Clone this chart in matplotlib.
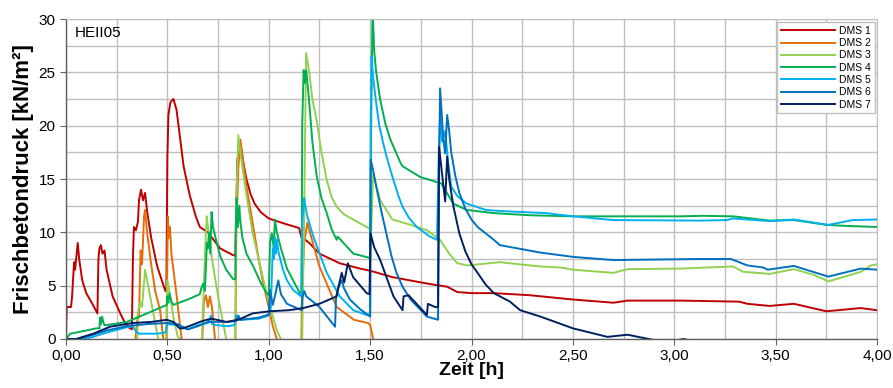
import matplotlib

matplotlib.use("Agg")
import matplotlib.pyplot as plt
from matplotlib.ticker import FuncFormatter, MultipleLocator

plt.rcParams["font.family"] = ["Liberation Sans", "DejaVu Sans"]

# readings from the reference chart: time [h] and pressure [kN/m2]
# values below 0 stand for the curve leaving the visible range
dms1_t = [0, 0.003, 0.005, 0.025, 0.03, 0.04, 0.045, 0.05, 0.058, 0.065, 0.08, 0.10, 0.13, 0.155,
          0.16, 0.165, 0.172, 0.18, 0.19, 0.20, 0.23, 0.27, 0.30, 0.325, 0.33, 0.335, 0.345, 0.355,
          0.36, 0.37, 0.38, 0.39, 0.40, 0.42, 0.45, 0.49, 0.495, 0.50, 0.505, 0.515, 0.53, 0.545,
          0.555, 0.58, 0.61, 0.64, 0.66, 0.70, 0.76, 0.82, 0.835, 0.845, 0.86, 0.875, 0.89, 0.91,
          0.93, 0.96, 1.0, 1.08, 1.15, 1.16, 1.2, 1.25, 1.35, 1.45, 1.5, 1.61, 1.78, 1.88, 1.93,
          2.0, 2.11, 2.29, 2.5, 2.70, 2.77, 3.03, 3.32, 3.36, 3.47, 3.59, 3.75, 3.92, 4.0]
dms1_v = [0, 2.8, 3.0, 3.0, 4.0, 7.2, 6.5, 7.5, 9.0, 7.5, 5.5, 4.3, 3.3, 2.4,
          7.5, 8.5, 8.8, 8.0, 8.3, 6.5, 4.0, 2.3, 1.2, 0.9, 7.5, 10.5, 10.2, 11.0,
          13.0, 14.0, 13.0, 13.7, 12.0, 9.5, 6.8, 4.5, 4.5, 17.0, 21.0, 22.2, 22.5, 21.5,
          20.0, 16.2, 13.5, 11.5, 10.5, 10.0, 8.5, 7.9, 7.8, 16.8, 18.3, 16.5, 15.0, 13.6,
          12.7, 11.9, 11.3, 10.8, 10.4, 9.6, 9.0, 8.0, 7.1, 6.6, 6.4, 5.8, 5.2, 4.9, 4.4,
          4.3, 4.3, 4.1, 3.7, 3.4, 3.6, 3.6, 3.5, 3.3, 3.1, 3.3, 2.6, 2.9, 2.7]

dms2_t = [0, 0.34, 0.345, 0.355, 0.36, 0.368, 0.375, 0.385, 0.39, 0.40, 0.42, 0.44, 0.464, 0.48,
          0.485, 0.495, 0.498, 0.502, 0.507, 0.513, 0.52, 0.546, 0.57, 0.575, 0.67, 0.68, 0.69,
          0.70, 0.71, 0.72, 0.73, 0.74, 0.835, 0.84, 0.85, 0.86, 0.89, 0.924, 0.95, 0.975, 1.0,
          1.02, 1.04, 1.045, 1.16, 1.165, 1.175, 1.19, 1.20, 1.25, 1.335, 1.42, 1.49, 1.50, 1.515,
          1.52, 4.0]
dms2_v = [-1, -1, 0.5, 2.4, 2.0, 8.3, 7.0, 11.5, 12.1, 10.0, 7.0, 4.5, 2.7, 0,
          -1, -1, 5.0, 11.5, 9.5, 10.5, 8.0, 4.0, 0, -1, -1, 3.5, 4.1,
          3.0, 4.0, 3.0, 1.0, -1, -1, 10.0, 16.0, 18.7, 14.3, 10.5, 7.5, 5.0, 3.0,
          1.2, 0, -1, -1, 5.0, 9.0, 10.9, 10.2, 6.8, 3.0, 1.8, 1.5, 1.3, 0,
          -1, -1]

dms3_t = [0, 0.35, 0.355, 0.365, 0.375, 0.39, 0.40, 0.42, 0.44, 0.455, 0.46, 0.49, 0.495, 0.50,
          0.51, 0.53, 0.55, 0.56, 0.565, 0.665, 0.67, 0.68, 0.69, 0.694, 0.70, 0.72, 0.75, 0.79,
          0.795, 0.83, 0.835, 0.84, 0.85, 0.86, 0.89, 0.92, 0.95, 0.98, 1.01, 1.04, 1.06, 1.065,
          1.16, 1.165, 1.175, 1.184, 1.20, 1.215, 1.236, 1.26, 1.286, 1.31, 1.335, 1.37, 1.416,
          1.483, 1.50, 1.505, 1.515, 1.55, 1.61, 1.70, 1.78, 1.845, 1.89, 1.93, 1.98, 2.14, 2.34,
          2.44, 2.5, 2.70, 2.77, 3.03, 3.29, 3.34, 3.41, 3.47, 3.59, 3.69, 3.76, 3.92, 3.97, 4.0]
dms3_v = [-1, -1, 2.5, 3.5, 3.0, 6.5, 5.5, 3.5, 1.5, 0, -1, -1, 0, 5.5,
          4.5, 2.0, 0.3, 0, -1, -1, 0, 5.0, 10.0, 11.5, 10.5, 7.5, 4.0, 0,
          -1, -1, 0, 13.0, 19.1, 17.5, 13.5, 10.0, 7.5, 5.0, 2.8, 0.8, 0, -1,
          -1, 0, 12.0, 26.8, 25.0, 22.5, 20.5, 17.5, 14.9, 13.3, 12.4, 11.7, 11.2,
          10.5, 10.3, 10.2, 15.5, 13.0, 11.2, 10.7, 10.2, 9.3, 8.0, 7.1, 6.9, 7.2, 6.8,
          6.7, 6.5, 6.2, 6.55, 6.6, 6.8, 6.3, 6.2, 6.1, 6.55, 6.0, 5.4, 6.3, 6.9, 7.0]

dms4_t = [0, 0.02, 0.05, 0.10, 0.15, 0.165, 0.168, 0.172, 0.178, 0.185, 0.19, 0.2, 0.3, 0.4,
          0.497, 0.50, 0.505, 0.51, 0.52, 0.53, 0.60, 0.66, 0.668, 0.677, 0.685, 0.695, 0.70,
          0.705, 0.712, 0.718, 0.725, 0.74, 0.76, 0.79, 0.825, 0.835, 0.838, 0.842, 0.848, 0.855,
          0.86, 0.87, 0.89, 0.924, 0.96, 0.99, 1.0, 1.006, 1.015, 1.025, 1.03, 1.04, 1.06, 1.09,
          1.12, 1.162, 1.165, 1.172, 1.178, 1.185, 1.20, 1.215, 1.237, 1.26, 1.286, 1.31, 1.335,
          1.34, 1.417, 1.5, 1.505, 1.512, 1.52, 1.53, 1.55, 1.575, 1.60, 1.65, 1.66, 1.746, 1.83,
          1.85, 1.91, 1.976, 2.11, 2.29, 2.5, 2.70, 3.03, 3.14, 3.29, 3.47, 3.59, 3.75, 3.85, 4.0]
dms4_v = [0, 0.5, 0.6, 0.8, 1.0, 1.0, 2.0, 1.4, 2.1, 1.5, 1.3, 1.3, 1.6, 2.4,
          3.2, 4.0, 3.4, 4.3, 3.5, 3.2, 3.7, 4.2, 4.8, 5.2, 4.5, 9.0, 8.5,
          10.0, 8.0, 11.9, 10.5, 9.3, 7.8, 6.5, 5.6, 5.6, 11.0, 13.2, 10.5, 12.5,
          11.0, 9.5, 8.0, 6.8, 5.3, 4.3, 4.1, 9.0, 9.9, 8.5, 11.2, 10.0, 8.5, 6.6,
          5.5, 4.0, 20.0, 25.2, 24.0, 25.2, 22.1, 18.5, 15.2, 13.2, 11.8, 10.3, 9.3,
          9.6, 8.0, 7.6, 20.0, 31.0, 27.0, 25.0, 22.4, 20.2, 18.7, 16.5, 16.2, 15.2, 14.7,
          14.6, 12.7, 12.1, 11.8, 11.6, 11.5, 11.5, 11.5, 11.55, 11.5, 11.1, 11.15, 10.7, 10.6, 10.5]

dms5_t = [0, 0.1, 0.2, 0.3, 0.33, 0.345, 0.36, 0.45, 0.49, 0.50, 0.55, 0.6, 0.65, 0.7, 0.715,
          0.72, 0.74, 0.8, 0.83, 0.84, 0.86, 0.95, 1.0, 1.01, 1.02, 1.025, 1.03, 1.035, 1.04,
          1.045, 1.05, 1.07, 1.09, 1.12, 1.16, 1.165, 1.175, 1.18, 1.19, 1.22, 1.286, 1.35, 1.417,
          1.483, 1.50, 1.503, 1.507, 1.515, 1.53, 1.545, 1.565, 1.59, 1.615, 1.64, 1.66, 1.69,
          1.73, 1.795, 1.83, 1.838, 1.845, 1.855, 1.87, 1.885, 1.90, 1.93, 1.976, 2.07, 2.14,
          2.37, 2.5, 2.70, 3.13, 3.26, 3.29, 3.47, 3.59, 3.76, 3.88, 4.0]
dms5_v = [0, 0, 0.6, 1.1, 1.2, 0.7, 0.5, 0.5, 0.6, 1.4, 1.3, 0.9, 1.3, 1.5, 2.2,
          1.4, 1.3, 1.2, 1.3, 2.2, 1.8, 1.9, 2.2, 3.0, 8.5, 7.5, 9.5, 8.0, 9.3,
          8.5, 8.0, 6.5, 5.5, 4.6, 4.0, 11.0, 13.2, 12.5, 11.5, 9.6, 6.2, 4.0, 2.7,
          2.25, 2.3, 20.0, 26.5, 24.5, 22.1, 20.0, 18.3, 16.5, 14.9, 13.4, 12.4, 11.4,
          10.5, 9.6, 9.3, 17.0, 21.0, 18.5, 19.5, 16.5, 14.3, 13.4, 12.7, 12.1, 12.0,
          11.8, 11.5, 11.15, 11.1, 11.15, 11.3, 11.05, 11.2, 10.7, 11.15, 11.2]

dms6_t = [0, 0.05, 0.1, 0.2, 0.3, 0.4, 0.5, 0.55, 0.6, 0.65, 0.7, 0.8, 0.84, 0.85, 0.86, 0.95,
          1.0, 1.006, 1.02, 1.03, 1.047, 1.06, 1.09, 1.162, 1.165, 1.175, 1.185, 1.25, 1.327,
          1.332, 1.345, 1.36, 1.37, 1.40, 1.45, 1.50, 1.503, 1.515, 1.53, 1.555, 1.58, 1.605,
          1.63, 1.66, 1.70, 1.78, 1.835, 1.84, 1.845, 1.86, 1.87, 1.88, 1.89, 1.90, 1.92, 1.94,
          1.97, 2.0, 2.03, 2.11, 2.14, 2.34, 2.5, 2.70, 3.13, 3.28, 3.36, 3.44, 3.46, 3.59, 3.76,
          3.92, 4.0]
dms6_v = [0, 0, 0.2, 0.8, 1.2, 1.4, 1.5, 1.4, 0.9, 1.2, 1.6, 1.6, 1.7, 2.2, 1.8, 2.0,
          2.3, 4.6, 3.2, 4.0, 5.5, 4.2, 3.3, 2.7, 3.8, 4.5, 4.0, 3.0, 1.15,
          4.0, 4.9, 5.5, 4.8, 3.7, 2.8, 2.1, 16.8, 15.8, 14.3, 12.0, 9.9, 7.8,
          6.2, 4.9, 3.7, 2.1, 1.8, 15.0, 23.5, 19.0, 17.4, 21.0, 19.5, 17.5, 15.3, 13.7,
          12.2, 11.2, 10.5, 9.3, 8.8, 8.1, 7.7, 7.4, 7.5, 7.5, 6.9, 6.7, 6.5, 6.85, 5.85,
          6.6, 6.5]

dms7_t = [0, 0.05, 0.135, 0.217, 0.33, 0.42, 0.497, 0.53, 0.56, 0.578, 0.62, 0.66, 0.694, 0.72,
          0.79, 0.85, 0.92, 1.006, 1.10, 1.17, 1.25, 1.335, 1.345, 1.36, 1.372, 1.39, 1.416, 1.483,
          1.497, 1.502, 1.52, 1.55, 1.615, 1.66, 1.665, 1.69, 1.78, 1.785, 1.82, 1.835, 1.84, 1.87,
          1.88, 1.89, 1.91, 1.94, 1.97, 2.0, 2.03, 2.07, 2.11, 2.19, 2.24, 2.34, 2.5, 2.67, 2.77,
          2.9, 2.95, 3.05, 3.12, 4.0]
dms7_v = [0, 0, 0.5, 1.15, 1.5, 1.6, 1.8, 1.6, 1.0, 1.0, 1.3, 1.6, 1.8, 1.9,
          1.6, 1.8, 2.4, 2.6, 2.7, 2.9, 3.3, 4.0, 5.0, 6.2, 5.3, 7.1, 5.8, 4.3,
          4.2, 9.9, 8.6, 7.4, 4.0, 2.7, 4.0, 4.1, 2.25, 3.3, 3.0, 3.0, 18.0, 12.9,
          17.1, 15.0, 12.5, 9.9, 8.2, 7.0, 6.2, 5.1, 4.3, 3.5, 2.7, 2.1, 1.0, 0.2, 0.4,
          -0.1, -0.3, 0, -0.5, -1]

series_names = ["DMS 1", "DMS 2", "DMS 3", "DMS 4", "DMS 5", "DMS 6", "DMS 7"]
series_t = [dms1_t, dms2_t, dms3_t, dms4_t, dms5_t, dms6_t, dms7_t]
series_v = [dms1_v, dms2_v, dms3_v, dms4_v, dms5_v, dms6_v, dms7_v]
colors = ["#C00000", "#E46C0A", "#92D050", "#00B050", "#00B0F0", "#0070C0", "#002060"]


def comma_fmt(x, pos):
    return f"{x:.2f}".replace(".", ",")


fig = plt.figure(figsize=(8.93, 3.88), dpi=100)
ax = fig.add_axes([0.0739, 0.1263, 0.9082, 0.8247])

for name, t, v, c in zip(series_names, series_t, series_v, colors):
    ax.plot(t, v, color=c, lw=1.4, label=name)

ax.set_xlim(0, 4)
ax.set_ylim(0, 30)
ax.xaxis.set_major_locator(MultipleLocator(0.5))
ax.xaxis.set_minor_locator(MultipleLocator(0.25))
ax.yaxis.set_major_locator(MultipleLocator(5))
ax.yaxis.set_minor_locator(MultipleLocator(2.5))
ax.xaxis.set_major_formatter(FuncFormatter(comma_fmt))
ax.grid(True, which="both", color="#BFBFBF", lw=1.0)
ax.set_axisbelow(True)
ax.tick_params(axis="both", which="major", labelsize=11, length=4, color="#606060", direction="out")
ax.tick_params(axis="both", which="minor", length=0)

for side in ["top", "right"]:
    ax.spines[side].set_color("#BFBFBF")
for side in ["left", "bottom"]:
    ax.spines[side].set_color("#606060")
    ax.spines[side].set_linewidth(1.0)

ax.set_xlabel("Zeit [h]", fontsize=14, fontweight="bold", labelpad=-1)
ax.set_ylabel("Frischbetondruck [kN/m²]", fontsize=16, fontweight="bold", labelpad=3)
ax.text(0.011, 0.955, "HEII05", transform=ax.transAxes, fontsize=11, va="center", ha="left")

leg = ax.legend(loc="upper right", bbox_to_anchor=(0.997, 0.99), fontsize=7.5, handlelength=5.2,
                labelspacing=0.22, borderpad=0.35, handletextpad=0.4, fancybox=False,
                framealpha=1, edgecolor="#BFBFBF", borderaxespad=0)
leg.get_frame().set_linewidth(1.0)

fig.savefig("out.png", dpi=100)
